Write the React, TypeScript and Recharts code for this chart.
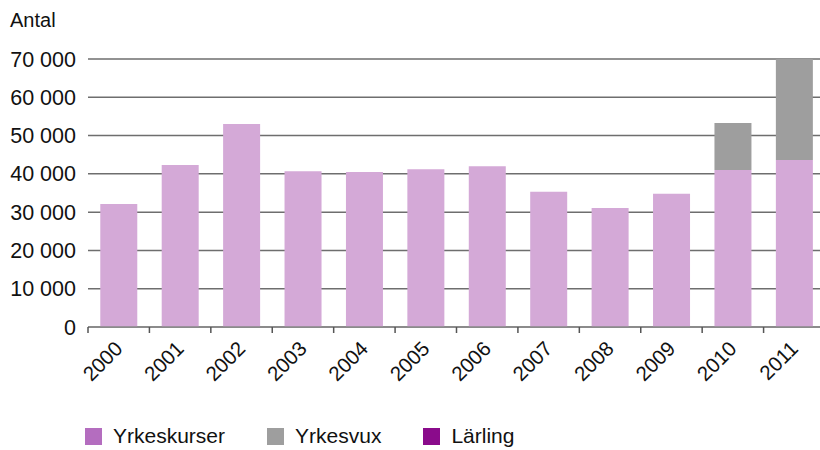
import { Bar, BarChart, CartesianGrid, Legend, XAxis, YAxis } from "recharts";

const years = ["2000", "2001", "2002", "2003", "2004", "2005", "2006", "2007", "2008", "2009", "2010", "2011"];
const yrkeskurser = [32100, 42300, 53000, 40700, 40500, 41200, 42000, 35300, 31100, 34800, 41000, 43600];
const yrkesvux = [0, 0, 0, 0, 0, 0, 0, 0, 0, 0, 12300, 26400];
const larling = [0, 0, 0, 0, 0, 0, 0, 0, 0, 0, 0, 0];
const yTicks = [0, 10000, 20000, 30000, 40000, 50000, 60000, 70000];

const data = years.map((year, i) => ({
  year,
  yrkeskurser: yrkeskurser[i],
  yrkesvux: yrkesvux[i],
  larling: larling[i],
}));

const legendItems = [
  { label: "Yrkeskurser", color: "#b46dbf" },
  { label: "Yrkesvux", color: "#9e9e9e" },
  { label: "Lärling", color: "#8a0b8b" },
];

const FONT = "'Liberation Sans', Arial, sans-serif";
const CHART_W = 825;
const PLOT_LEFT = 88;
const BAND = (CHART_W - PLOT_LEFT) / years.length;

function formatTick(v: number) {
  if (v === 0) return "0";
  return `${v / 1000} 000`;
}

function YearTick(props: any) {
  const { x, y, payload } = props;
  const tx = x + 5;
  const ty = y + 15;
  return (
    <g>
      <line x1={x - BAND / 2} y1={y - 8} x2={x - BAND / 2} y2={y - 2} stroke="#555" strokeWidth={1.5} />
      <text
        x={tx}
        y={ty}
        transform={`rotate(-45, ${tx}, ${ty})`}
        textAnchor="end"
        fontSize={20.5}
        fontFamily={FONT}
        fill="#111"
      >
        {payload.value}
      </text>
    </g>
  );
}

function LegendContent() {
  return (
    <div style={{ display: "flex", paddingLeft: 85, paddingTop: 14, fontFamily: FONT, fontSize: 21, lineHeight: "24px", color: "#111" }}>
      {legendItems.map((item) => (
        <div key={item.label} style={{ display: "flex", alignItems: "center", marginRight: 42 }}>
          <span style={{ width: 17, height: 17, background: item.color, display: "inline-block", marginRight: 11 }} />
          <span>{item.label}</span>
        </div>
      ))}
    </div>
  );
}

export default function App() {
  return (
    <div style={{ position: "absolute", left: 0, top: 0, width: 820, height: 450, overflow: "hidden", background: "#fff" }}>
      <BarChart
        width={CHART_W}
        height={450}
        data={data}
        margin={{ top: 59, right: 0, left: 0, bottom: 0 }}
        barCategoryGap="20%"
      >
        <CartesianGrid vertical={false} stroke="#6e6e6e" strokeWidth={1.5} />
        <XAxis
          dataKey="year"
          height={83}
          tickLine={false}
          axisLine={{ stroke: "#888", strokeWidth: 1.5 }}
          tick={<YearTick />}
          interval={0}
        />
        <YAxis
          width={PLOT_LEFT}
          domain={[0, 70000]}
          ticks={yTicks}
          tickFormatter={formatTick}
          axisLine={false}
          tickLine={false}
          tickMargin={6}
          tick={{ fontSize: 21.5, fontFamily: FONT, fill: "#111" }}
          label={{
            content: () => (
              <text x={10} y={27} fontSize={20} fontFamily={FONT} fill="#111">
                Antal
              </text>
            ),
          }}
        />
        <Legend verticalAlign="bottom" height={40} content={<LegendContent />} />
        <Bar dataKey="yrkeskurser" name="Yrkeskurser" stackId="a" fill="#d4a9d7" isAnimationActive={false} />
        <Bar dataKey="yrkesvux" name="Yrkesvux" stackId="a" fill="#9e9e9e" isAnimationActive={false} />
        <Bar dataKey="larling" name="Lärling" stackId="a" fill="#8a0b8b" isAnimationActive={false} />
      </BarChart>
    </div>
  );
}
